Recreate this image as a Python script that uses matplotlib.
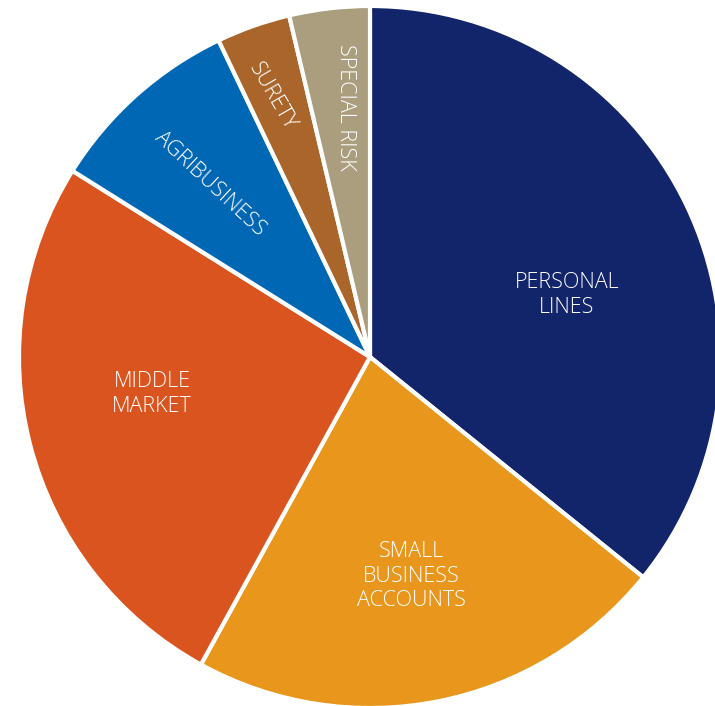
import matplotlib.pyplot as plt

segments = ["PERSONAL\nLINES", "SMALL\nBUSINESS\nACCOUNTS", "MIDDLE\nMARKET",
            "AGRIBUSINESS", "SURETY", "SPECIAL RISK"]
shares = [35.8, 22.2, 25.9, 9.0, 3.4, 3.7]
colors = ["#12246a", "#e8961c", "#d9541e", "#0067b4", "#a9652a", "#aa9e7f"]

W, H = 715, 706
fig = plt.figure(figsize=(W / 100, H / 100), dpi=100)
ax = fig.add_axes([0, 0, 1, 1])

cx, cy, r = 370, H - 357, 351
wedges, _ = ax.pie(shares, colors=colors, startangle=90, counterclock=False,
                   center=(cx, cy), radius=r,
                   wedgeprops=dict(edgecolor="white", linewidth=3))

# label placement (pixel coords from top-left) and rotation
label_pos = [(567, 295, 0), (411, 576, 0), (152, 394, 0),
             (210, 184, -43), (272, 97, -60), (345, 107, -90)]
for name, (x, y, rot) in zip(segments, label_pos):
    ax.text(x, H - y, name, color="white", fontsize=15.5, family="Open Sans",
            fontweight="light", ha="center", va="center", rotation=rot,
            rotation_mode="anchor", linespacing=1.22)

ax.set_xlim(0, W)
ax.set_ylim(0, H)
ax.set_aspect("equal")
ax.axis("off")
fig.savefig("out.png", dpi=100)
